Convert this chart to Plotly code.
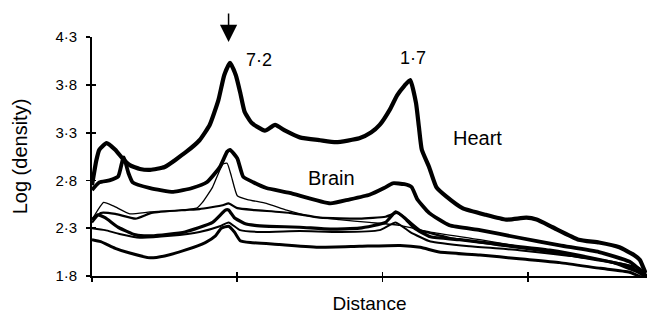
import plotly.graph_objects as go

# Distance (arbitrary units) and log(density)
heart_x = [0.00, 0.03, 0.05, 0.10, 0.16, 0.21, 0.26, 0.33, 0.40, 0.50, 0.65, 0.74, 0.81, 0.87, 0.91,
           0.95, 0.99, 1.02, 1.05, 1.10, 1.19, 1.26, 1.33, 1.43, 1.57, 1.68, 1.84, 1.92, 1.98, 2.05,
           2.10, 2.15, 2.19, 2.23, 2.25, 2.27, 2.32, 2.37, 2.44, 2.55, 2.71, 2.85, 2.99, 3.06, 3.17,
           3.35, 3.49, 3.63, 3.73, 3.77, 3.81]
heart_y = [2.75, 3.01, 3.12, 3.19, 3.12, 3.03, 2.96, 2.92, 2.91, 2.94, 3.10, 3.22, 3.38, 3.64, 3.90,
           4.03, 3.90, 3.72, 3.52, 3.40, 3.32, 3.38, 3.32, 3.25, 3.22, 3.20, 3.24, 3.30, 3.38, 3.54,
           3.69, 3.79, 3.85, 3.61, 3.36, 3.12, 2.94, 2.73, 2.63, 2.51, 2.44, 2.39, 2.41, 2.39, 2.31,
           2.18, 2.15, 2.10, 2.02, 1.97, 1.83]

brain_x = [0.00, 0.05, 0.12, 0.18, 0.21, 0.22, 0.25, 0.28, 0.40, 0.56, 0.69, 0.79, 0.88, 0.93, 0.95,
           1.00, 1.04, 1.11, 1.20, 1.36, 1.64, 1.77, 1.91, 2.01, 2.07, 2.15, 2.20, 2.24, 2.32, 2.46,
           2.67, 2.94, 3.22, 3.49, 3.70, 3.81]
brain_y = [2.70, 2.78, 2.80, 2.84, 3.01, 3.04, 2.88, 2.78, 2.72, 2.68, 2.72, 2.78, 2.94, 3.10, 3.12,
           3.03, 2.84, 2.78, 2.72, 2.67, 2.56, 2.60, 2.65, 2.72, 2.77, 2.76, 2.73, 2.60, 2.46, 2.33,
           2.28, 2.20, 2.12, 2.05, 1.95, 1.81]

t1_x = [0.00, 0.04, 0.08, 0.15, 0.26, 0.40, 0.61, 0.72, 0.76, 0.83, 0.90, 0.93, 0.96, 1.00, 1.07,
        1.20, 1.34, 1.52, 1.70, 1.91, 2.12, 2.33, 2.67, 3.01, 3.36, 3.63, 3.82]
t1_y = [2.39, 2.49, 2.57, 2.53, 2.45, 2.47, 2.49, 2.51, 2.57, 2.73, 2.97, 2.98, 2.84, 2.64, 2.60,
        2.56, 2.49, 2.42, 2.39, 2.36, 2.33, 2.26, 2.18, 2.09, 1.99, 1.92, 1.81]

t2_x = [0.00, 0.06, 0.16, 0.30, 0.41, 0.64, 0.74, 0.90, 0.94, 1.00, 1.12, 1.36, 1.57, 1.84, 2.02,
        2.10, 2.17, 2.26, 2.46, 2.81, 3.15, 3.50, 3.77, 3.82]
t2_y = [2.36, 2.46, 2.45, 2.40, 2.46, 2.49, 2.50, 2.54, 2.56, 2.51, 2.49, 2.46, 2.41, 2.40, 2.42,
        2.46, 2.39, 2.28, 2.20, 2.12, 2.05, 1.97, 1.88, 1.79]

b1_x = [0.00, 0.04, 0.09, 0.18, 0.30, 0.41, 0.64, 0.83, 0.92, 0.94, 0.98, 1.05, 1.12, 1.22, 1.43,
        1.64, 1.84, 2.02, 2.09, 2.15, 2.22, 2.33, 2.53, 2.81, 3.15, 3.50, 3.70, 3.82]
b1_y = [2.39, 2.44, 2.41, 2.31, 2.23, 2.22, 2.26, 2.36, 2.49, 2.49, 2.41, 2.35, 2.33, 2.32, 2.31,
        2.29, 2.30, 2.36, 2.47, 2.41, 2.30, 2.21, 2.18, 2.13, 2.07, 1.97, 1.90, 1.78]

c_x = [0.00, 0.09, 0.19, 0.33, 0.54, 0.74, 0.88, 0.94, 1.02, 1.16, 1.43, 1.71, 1.98, 2.09, 2.19,
       2.33, 2.60, 2.94, 3.29, 3.56, 3.82]
c_y = [2.30, 2.28, 2.24, 2.20, 2.22, 2.26, 2.32, 2.36, 2.28, 2.26, 2.27, 2.26, 2.28, 2.36, 2.26,
       2.16, 2.11, 2.07, 2.01, 1.95, 1.80]

d_x = [0.00, 0.06, 0.16, 0.26, 0.40, 0.50, 0.64, 0.78, 0.85, 0.89, 0.94, 0.98, 1.02, 1.09, 1.29,
       1.57, 1.84, 2.12, 2.26, 2.39, 2.67, 2.94, 3.22, 3.50, 3.70, 3.82]
d_y = [2.18, 2.16, 2.09, 2.04, 1.99, 2.01, 2.07, 2.15, 2.22, 2.30, 2.32, 2.26, 2.17, 2.15, 2.13,
       2.10, 2.11, 2.12, 2.10, 2.05, 2.02, 1.98, 1.94, 1.88, 1.84, 1.76]

y_tickvals = [1.8, 2.3, 2.8, 3.3, 3.8, 4.3]
y_ticktext = ["1·8", "2·3", "2·8", "3·3", "3·8", "4·3"]
x_tickvals = [0, 1, 2, 3]

series = [
    (heart_x, heart_y, 4.2),
    (brain_x, brain_y, 3.8),
    (t1_x, t1_y, 1.3),
    (t2_x, t2_y, 2.2),
    (b1_x, b1_y, 3.2),
    (c_x, c_y, 2.0),
    (d_x, d_y, 3.0),
]

FONT = "Liberation Sans, Arial, sans-serif"

fig = go.Figure()
for xs, ys, w in series:
    fig.add_trace(go.Scatter(x=xs, y=ys, mode="lines",
                             line=dict(color="black", width=w, shape="spline", smoothing=0.45),
                             showlegend=False, hoverinfo="skip", cliponaxis=False))

# invisible trace to activate the secondary (inner-tick) axes
fig.add_trace(go.Scatter(x=[0], y=[1.8], xaxis="x2", yaxis="y2", mode="markers",
                         marker=dict(opacity=0), showlegend=False, hoverinfo="skip"))

XR = [0, 3.82]
YR = [1.8, 4.3]

fig.update_layout(
    width=647, height=316,
    margin=dict(l=92, r=0, t=37, b=40),
    paper_bgcolor="white", plot_bgcolor="white",
    font=dict(family=FONT, color="black"),
    xaxis=dict(range=XR, showgrid=False, zeroline=False, showline=True, linecolor="black",
               linewidth=1.8, ticks="outside", ticklen=4, tickwidth=1.8, tickcolor="black",
               tickvals=x_tickvals, showticklabels=False, automargin=False,
               title=dict(text="Distance", font=dict(size=19), standoff=16)),
    yaxis=dict(range=YR, showgrid=False, zeroline=False, showline=True, linecolor="black",
               linewidth=1.8, ticks="outside", ticklen=4, tickwidth=1.8, tickcolor="black",
               tickvals=y_tickvals, ticktext=y_ticktext, tickfont=dict(size=15),
               ticklabelstandoff=6, automargin=False,
               title=dict(text="Log (density)", font=dict(size=20), standoff=22)),
    xaxis2=dict(range=XR, overlaying="x", anchor="y", side="bottom", showgrid=False,
                zeroline=False, showline=False, ticks="inside", ticklen=4, tickwidth=1.8,
                tickcolor="black", tickvals=x_tickvals, showticklabels=False, automargin=False),
    yaxis2=dict(range=YR, overlaying="y", anchor="x", side="left", showgrid=False,
                zeroline=False, showline=False, ticks="inside", ticklen=4, tickwidth=1.8,
                tickcolor="black", tickvals=y_tickvals, showticklabels=False, automargin=False),
    annotations=[
        dict(x=1.15, y=4.06, text="7·2", showarrow=False, font=dict(size=18)),
        dict(x=2.21, y=4.08, text="1·7", showarrow=False, font=dict(size=18)),
        dict(x=2.65, y=3.24, text="Heart", showarrow=False, font=dict(size=20)),
        dict(x=1.65, y=2.825, text="Brain", showarrow=False, font=dict(size=20)),
        dict(x=0.94, y=4.248, text="", showarrow=True, arrowhead=2, arrowsize=2.3,
             arrowwidth=1.5, arrowcolor="black", ax=0, ay=-30, standoff=0),
    ],
)

fig.write_html("out.html", config={"displayModeBar": False, "staticPlot": True},
               post_script="document.body.style.margin='0';document.body.style.overflow='hidden';")
